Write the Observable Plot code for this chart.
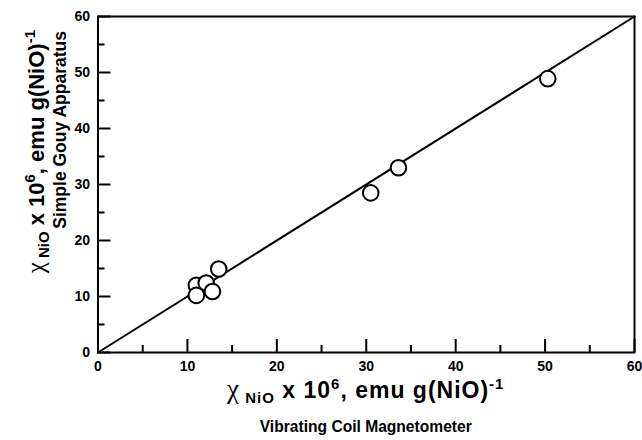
<!DOCTYPE html>
<html><head><meta charset="utf-8">
<script src="https://cdn.jsdelivr.net/npm/d3@7"></script>
<script src="https://cdn.jsdelivr.net/npm/@observablehq/plot@0.6"></script>
<style>
body{margin:0;background:#fff}
svg{display:block}
</style>
</head><body><div id="chart"></div>
<script>
// Data
const vcm  = [50.3, 33.6, 30.5, 13.5, 11.0, 12.1, 12.8, 11.0];   // Vibrating Coil Magnetometer
const gouy = [48.9, 33.0, 28.5, 14.9, 12.0, 12.4, 10.9, 10.2];   // Simple Gouy Apparatus
const fitX = [0, 60];
const fitY = [0, 60];
const majorTicks = [0, 10, 20, 30, 40, 50, 60];
const minorTicks = [5, 15, 25, 35, 45, 55];

const points = vcm.map((v, i) => ({x: v, y: gouy[i]}));
const fit = fitX.map((v, i) => ({x: v, y: fitY[i]}));

const font = "'Liberation Sans', Arial, sans-serif";
const empty = () => "";

const plot = Plot.plot({
  width: 642,
  height: 440,
  marginLeft: 97.5,
  marginRight: 8,
  marginTop: 16,
  marginBottom: 88,
  style: {fontFamily: font, background: "#fff", color: "#000"},
  x: {domain: [0, 60]},
  y: {domain: [0, 60]},
  marks: [
    Plot.frame({stroke: "#000", strokeWidth: 2}),
    // inward ticks (shifted into the frame)
    Plot.axisX(majorTicks, {tickSize: 13, dy: -13, tickFormat: empty, label: null, strokeWidth: 2}),
    Plot.axisX(minorTicks, {tickSize: 7, dy: -7, tickFormat: empty, label: null, strokeWidth: 2}),
    Plot.axisY(majorTicks, {tickSize: 13, dx: 13, tickFormat: empty, label: null, strokeWidth: 2}),
    Plot.axisY(minorTicks, {tickSize: 7, dx: 7, tickFormat: empty, label: null, strokeWidth: 2}),
    // tick labels
    Plot.axisX(majorTicks, {tickSize: 0, tickPadding: 9, fontSize: 14, fontWeight: "bold", label: null}),
    Plot.axisY(majorTicks, {tickSize: 0, tickPadding: 8, fontSize: 14, fontWeight: "bold", label: null}),
    Plot.line(fit, {x: "x", y: "y", stroke: "#000", strokeWidth: 2}),
    Plot.dot(points, {x: "x", y: "y", r: 7.8, stroke: "#000", strokeWidth: 2, fill: "#fff"})
  ]
});

document.getElementById("chart").appendChild(plot);

// Axis titles with sub/superscripts
const svg = d3.select(plot);
function titleLine(g, parts, spacing) {
  const t = g.append("text").attr("font-family", font).attr("font-weight", "bold").attr("fill", "#000");
  if (spacing) t.attr("letter-spacing", spacing);
  parts.forEach(p => {
    const s = t.append("tspan").text(p.t).attr("font-size", p.size);
    if (p.family) s.attr("font-family", p.family).attr("font-weight", "normal");
    if (p.dy) s.attr("dy", p.dy);
  });
  return t;
}
function chiParts(main, sub, chi) {
  const d = Math.round(main * 0.4);
  return [
    {t: "χ", size: chi, family: "'Liberation Serif', serif"},
    {t: " NiO", size: sub, dy: d * 0.55},
    {t: " x 10", size: main, dy: -d * 0.55},
    {t: "6", size: sub, dy: -d},
    {t: ", emu g(NiO)", size: main, dy: d},
    {t: "-1", size: sub, dy: -d}
  ];
}
const cx = (97.5 + 634) / 2;
titleLine(svg.append("g"), chiParts(23, 15, 27), 1).attr("x", cx).attr("y", 398).attr("text-anchor", "middle");
titleLine(svg.append("g"), [{t: "Vibrating Coil Magnetometer", size: 15.6}]).attr("x", cx).attr("y", 432).attr("text-anchor", "middle");

titleLine(svg.append("g").attr("transform", "translate(44,30) rotate(-90)"), chiParts(22, 15, 25)).attr("text-anchor", "end");
titleLine(svg.append("g").attr("transform", "translate(66,31) rotate(-90)"), [{t: "Simple Gouy Apparatus", size: 17.5}]).attr("text-anchor", "end");
</script>
</body></html>
